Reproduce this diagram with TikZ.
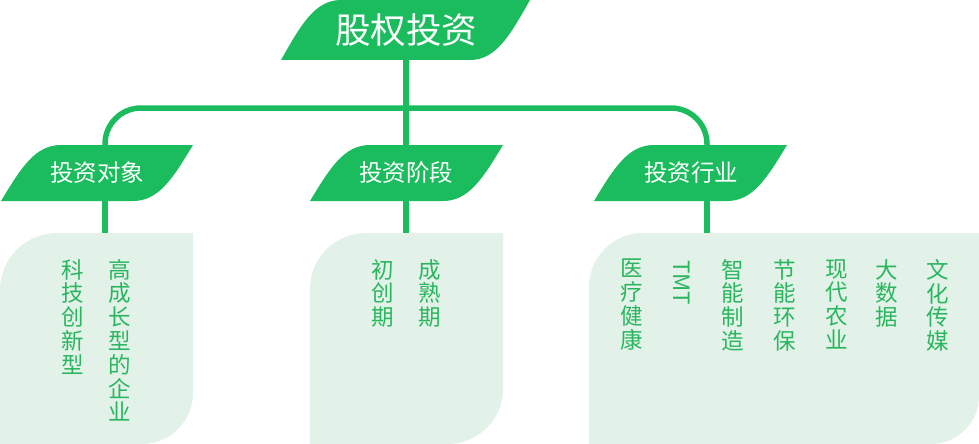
\documentclass[tikz,border=0pt]{standalone}
\usepackage{fontspec}
\setmainfont{Noto Sans CJK SC}
\usepackage{tikz}
\definecolor{leafgreen}{HTML}{1BBC5E}
\definecolor{cardgreen}{HTML}{E2F2E8}
\definecolor{itemgreen}{HTML}{2AB65E}
\newcommand{\leafround}{60}
\tikzstyle{leaf}=[fill=leafgreen]
\tikzstyle{card}=[fill=cardgreen]
\tikzstyle{link}=[draw=leafgreen, line width=5.5pt]
\tikzstyle{heading}=[text=white, inner sep=0, font=\fontsize{23.5}{23.5}\selectfont]
\tikzstyle{item}=[text=itemgreen, inner sep=0, anchor=north, align=center,
                  font=\fontsize{22.5}{23.8}\selectfont]
% leaf: left, top, width, height
\newcommand{\leaf}[4]{\fill[leaf, shift={(#1,#2)}] (0,#4) .. controls (20,0.41*#4) and (34,0) .. (\leafround,0)
    -- (#3,0) .. controls (#3-20,0.59*#4) and (#3-34,#4) .. (#3-\leafround,#4) -- cycle;}
% card: left, top, right, bottom, upper radius, lower radius
\newcommand{\card}[6]{\fill[card] (#1,#4) -- (#1,#2+#5) .. controls (#1,#2+0.448*#5) and (#1+0.448*#5,#2) .. (#1+#5,#2)
    -- (#3,#2) -- (#3,#4-#6) .. controls (#3,#4-0.448*#6) and (#3-0.448*#6,#4) .. (#3-#6,#4) -- cycle;}

\begin{document}
\begin{tikzpicture}[x=1pt, y=-1pt]
    \useasboundingbox (0,0) rectangle (979,444);
    \card{0}{233}{193}{444}{57}{51}
    \card{310}{233}{503}{444}{56}{55}
    \card{589}{233}{979}{444}{54}{48}
    \coordinate (rootfoot) at (406,60);
    \coordinate (bar) at (406,108);
    \coordinate (objtop) at (105,145);
    \coordinate (stgtop) at (406,145);
    \coordinate (indtop) at (707,145);
    \coordinate (objcard) at (105,233);
    \coordinate (stgcard) at (406,233);
    \coordinate (indcard) at (707,233);
    \draw[link] (rootfoot) -- (stgtop);
    \draw[link, rounded corners=36pt] (objtop) -- (objtop |- bar) -- (indtop |- bar) -- (indtop);
    \draw[link] (objtop) -- (objcard);
    \draw[link] (stgtop) -- (stgcard);
    \draw[link] (indtop) -- (indcard);
    \leaf{281}{0}{249}{60}
    \leaf{1}{145}{192}{56}
    \leaf{310}{145}{193}{56}
    \leaf{594}{145}{193}{56}
    \node[heading, font=\fontsize{35.5}{35.5}\selectfont] (root) at (406,30) {股权投资};
    \node[heading] (objects) at (97,173) {投资对象};
    \node[heading] (stages) at (406,173) {投资阶段};
    \node[heading] (sectors) at (691,173) {投资行业};
    \node[item] (tech) at (73,259) {科\\技\\创\\新\\型};
    \node[item] (growth) at (120,259) {高\\成\\长\\型\\的\\企\\业};
    \node[item] (seed) at (383,259) {初\\创\\期};
    \node[item] (mature) at (430,259) {成\\熟\\期};
    \node[item] (health) at (632,259) {医\\疗\\健\\康};
    \node[item, rotate=-90, anchor=west] (tmt) at (682,260) {TMT};
    \node[item] (smart) at (733,259) {智\\能\\制\\造};
    \node[item] (ecology) at (785,259) {节\\能\\环\\保};
    \node[item] (farming) at (837,259) {现\\代\\农\\业};
    \node[item] (bigdata) at (887,259) {大\\数\\据};
    \node[item] (media) at (938,259) {文\\化\\传\\媒};
\end{tikzpicture}
\end{document}
